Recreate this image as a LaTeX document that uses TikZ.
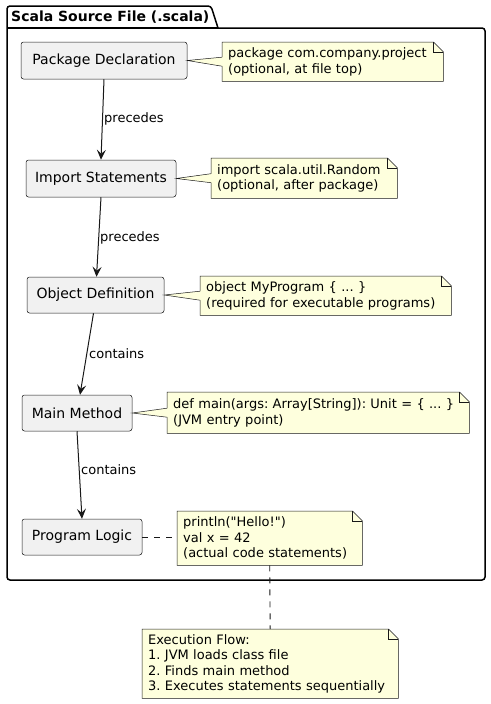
\documentclass[tikz,border=0pt]{standalone}
\usepackage{fontspec}
\setmainfont{DejaVu Sans}
\usetikzlibrary{arrows.meta}
\definecolor{nodefill}{HTML}{F1F1F1}
\definecolor{ink}{HTML}{181818}
\definecolor{notefill}{HTML}{FEFFDD}
\frenchspacing
\begin{document}
\begin{tikzpicture}[x=1pt,y=-1pt,
  stepbox/.style={draw=ink, line width=0.5pt, fill=nodefill, rounded corners=2.5pt,
    inner sep=0pt, font=\fontsize{14}{16}\selectfont},
  notebox/.style={anchor=north west, draw=none, inner xsep=6pt, inner ysep=0pt,
    align=left, font=\fontsize{13}{15.5}\selectfont},
  edgelabel/.style={anchor=west, inner sep=0pt, font=\fontsize{13}{15}\selectfont},
  flow/.style={draw=ink, line width=1pt, -{Stealth[length=10pt,width=9pt,inset=4pt]}},
  notelink/.style={draw=ink, line width=0.9pt, dash pattern=on 6pt off 6pt}]
\useasboundingbox (0,0) rectangle (490,704);
\fill[white] (0,0) rectangle (490,704);

% package frame
\draw[line width=1.5pt, rounded corners=3pt] (218,28) -- (485,28) -- (485,580) -- (7,580) -- (7,6) -- (211,6) -- (218,28);
\draw[line width=1.5pt] (7,28) -- (218,28);
\node[anchor=west, inner sep=0pt, font=\bfseries\fontsize{14}{16}\selectfont] (title) at (11,17) {Scala Source File (.scala)};

% main nodes
\node[stepbox, minimum width=166pt, minimum height=37pt] (pkg) at (104,60.5) {Package Declaration};
\node[stepbox, minimum width=150pt, minimum height=37pt] (imp) at (101,178.5) {Import Statements};
\node[stepbox, minimum width=137pt, minimum height=36pt] (obj) at (95.5,295) {Object Definition};
\node[stepbox, minimum width=110pt, minimum height=36pt] (mainm) at (77,413) {Main Method};
\node[stepbox, minimum width=120pt, minimum height=36pt] (logic) at (82,537) {Program Logic};

% notes
\newcommand{\notepaint}[1]{%
  \fill[notefill] (#1.north west) -- ([xshift=-10pt]#1.north east) -- ([yshift=-10pt]#1.north east) -- (#1.south east) -- (#1.south west) -- cycle;
  \draw[ink, line width=0.5pt] (#1.north west) -- ([xshift=-10pt]#1.north east) -- ([yshift=-10pt]#1.north east) -- (#1.south east) -- (#1.south west) -- cycle;
  \draw[ink, line width=0.5pt] ([xshift=-10pt]#1.north east) |- ([yshift=-10pt]#1.north east);}
\newcommand{\wedgelink}[2]{%
  \fill[notefill] (#1.east) -- ([yshift=4.5pt,xshift=1pt]#2.west) -- ([yshift=-4.5pt,xshift=1pt]#2.west) -- cycle;
  \draw[ink, line width=0.5pt] ([yshift=4.5pt]#2.west) -- (#1.east) -- ([yshift=-4.5pt]#2.west);}

\path (222,42) node[notebox, minimum width=221pt, minimum height=39pt, text width=209pt] (n1) {};
\path (211,158) node[notebox, minimum width=186pt, minimum height=40pt, text width=174pt] (n2) {};
\path (200,276) node[notebox, minimum width=251pt, minimum height=39pt, text width=239pt] (n3) {};
\path (167,392) node[notebox, minimum width=302pt, minimum height=41pt, text width=290pt] (n4) {};
\path (177,511) node[notebox, minimum width=185pt, minimum height=54pt, text width=173pt] (n5) {};
\path (142,629) node[notebox, minimum width=256pt, minimum height=69pt, text width=244pt] (n6) {};

\notepaint{n1}\notepaint{n2}\notepaint{n3}\notepaint{n4}\notepaint{n5}\notepaint{n6}

\node[notebox, anchor=center, text width=209pt] (t1) at (n1.center) {package com.company.project\\(optional, at file top)};
\node[notebox, anchor=center, text width=174pt] (t2) at (n2.center) {import scala.util.Random\\(optional, after package)};
\node[notebox, anchor=center, text width=239pt] (t3) at (n3.center) {object MyProgram \{ ... \}\\(required for executable programs)};
\node[notebox, anchor=center, text width=290pt] (t4) at (n4.center) {def main(args: Array[String]): Unit = \{ ... \}\\(JVM entry point)};
\node[notebox, anchor=center, text width=173pt] (t5) at (n5.center) {println(\textquotedbl Hello!\textquotedbl)\\val x = 42\\(actual code statements)};
\node[notebox, anchor=center, text width=244pt] (t6) at (n6.center) {Execution Flow:\\1. JVM loads class file\\2. Finds main method\\3. Executes statements sequentially};

\wedgelink{pkg}{n1}
\wedgelink{imp}{n2}
\wedgelink{obj}{n3}
\wedgelink{mainm}{n4}
\draw[notelink] (logic.east) -- (n5.west |- logic.east);
\draw[notelink] (n5.south) -- (n6.north);

% flow edges
\draw[flow] (pkg.south) -- (imp.north);
\draw[flow] (imp.south) -- ([xshift=1pt]obj.north);
\draw[flow] ([xshift=-2pt]obj.south) -- ([xshift=3pt]mainm.north);
\draw[flow] (mainm.south) -- (logic.north);

\node[edgelabel] (l1) at (104,119) {precedes};
\node[edgelabel] (l2) at (100,238) {precedes};
\node[edgelabel] (l3) at (89,354) {contains};
\node[edgelabel] (l4) at (81,470) {contains};
\end{tikzpicture}
\end{document}
